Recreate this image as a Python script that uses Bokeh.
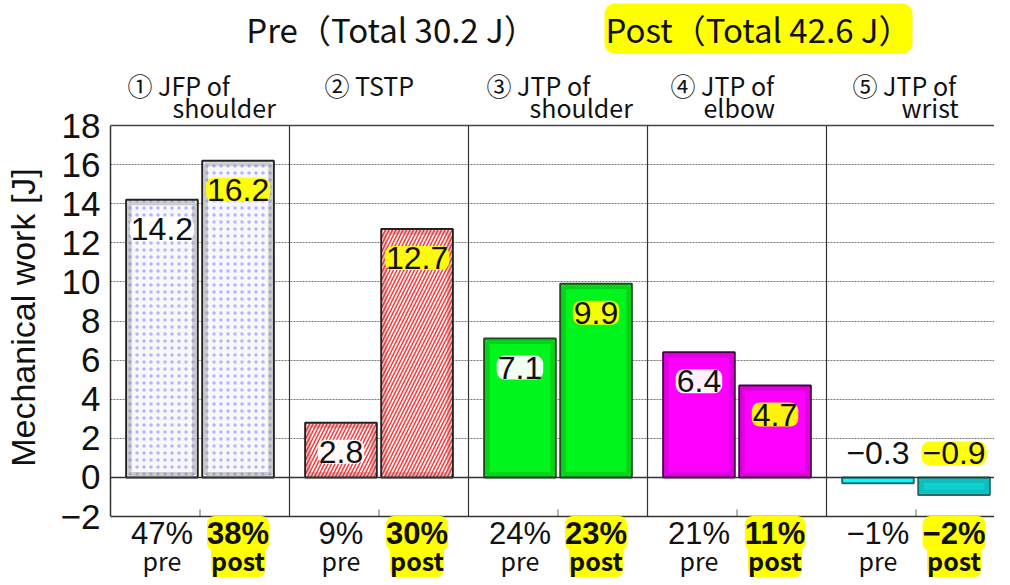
from bokeh.plotting import figure
from bokeh.layouts import column
from bokeh.models import Range1d, Label, Span, FixedTicker
from bokeh.embed import file_html
from bokeh.resources import INLINE

# ---------------- data ----------------
header_line1 = ["① JFP of", "② TSTP", "③ JTP of", "④ JTP of", "⑤ JTP of"]
header_line2 = ["shoulder", "", "shoulder", "elbow", "wrist"]
pre_values = [14.2, 2.8, 7.1, 6.4, -0.3]
post_values = [16.2, 12.7, 9.9, 4.7, -0.9]
pre_share = [47, 9, 24, 21, -1]
post_share = [38, 30, 23, 11, -2]
pre_total = 30.2
post_total = 42.6
y_ticks = [-2, 0, 2, 4, 6, 8, 10, 12, 14, 16, 18]
y_label = "Mechanical work [J]"

# ---------------- layout (page pixels) ----------------
W, H = 994, 577
TITLE_H = 57               # title strip height; main frame centre then sits at the axis centre
FL = 110                   # frame left
AX_TOP, AX_BOT = 125, 516  # page rows of y=18 and y=-2
CAT_PX = 179.0
ppu = (AX_BOT - AX_TOP) / 20.0
x_end = (W - FL) / CAT_PX
y_top = 18 + (AX_TOP - TITLE_H) / ppu
y_bot = -2 - (H - AX_BOT) / ppu

NUM_FONT = "'Liberation Sans', sans-serif"
JP_FONT = "'Noto Sans CJK JP', sans-serif"


def fy(page_y):
    return 18 - (page_y - AX_TOP) / ppu


def fx(page_x):
    return (page_x - FL) / CAT_PX


def fmt(v):
    s = f"{abs(v):.1f}"
    return ("\u2212" + s) if v < 0 else s


def pct(v):
    return ("\u2212" if v < 0 else "") + f"{abs(v)}%"


xr = Range1d(0, x_end)

# ---------------- title strip ----------------
t = figure(width=W, height=TITLE_H, x_range=xr, y_range=Range1d(TITLE_H, 0),
           output_backend="svg", toolbar_location=None,
           min_border_left=FL, min_border_top=0, min_border_bottom=0, min_border_right=0)
t.outline_line_color = None
t.axis.visible = False
t.grid.visible = False
t.add_layout(Label(x=fx(391), y=28, text=f"Pre（Total {pre_total} J）", text_align="center",
                   text_baseline="middle", text_font=JP_FONT, text_font_size="33px", text_color="#111111"))
t.add_layout(Label(x=fx(758), y=28, text=f"Post（Total {post_total} J）", text_align="center",
                   text_baseline="middle", text_font=JP_FONT, text_font_size="33px", text_color="#111111",
                   background_fill_color="#ffff00", border_radius=10, padding=1))

# ---------------- main chart ----------------
p = figure(width=W, height=H - TITLE_H, x_range=xr, y_range=Range1d(y_bot, y_top),
           output_backend="svg", toolbar_location=None,
           min_border_left=FL, min_border_top=0, min_border_bottom=0, min_border_right=0)
p.outline_line_color = None
p.background_fill_color = "white"
p.xaxis.visible = False

p.yaxis.bounds = (-2, 18)
p.yaxis.ticker = FixedTicker(ticks=y_ticks)
p.yaxis.major_label_overrides = {v: ("\u2212" + str(-v) if v < 0 else str(v)) for v in y_ticks}
p.yaxis.major_tick_out = 0
p.yaxis.major_tick_in = 0
p.yaxis.minor_tick_line_color = None
p.yaxis.axis_line_color = "#333333"
p.yaxis.axis_line_width = 1.5
p.yaxis.major_label_text_font = NUM_FONT
p.yaxis.major_label_text_font_size = "35px"
p.yaxis.major_label_text_color = "#111111"
p.yaxis.major_label_standoff = 10
p.yaxis.axis_label = y_label
p.yaxis.axis_label_text_font = NUM_FONT
p.yaxis.axis_label_text_font_style = "normal"
p.yaxis.axis_label_text_font_size = "34px"
p.yaxis.axis_label_text_color = "#111111"
p.yaxis.axis_label_standoff = 16

p.xgrid.visible = False
p.ygrid.ticker = FixedTicker(ticks=y_ticks[2:-1])
p.ygrid.grid_line_color = "#777777"
p.ygrid.grid_line_dash = "2 1"
p.ygrid.grid_line_width = 1

for loc, col in ((0, "#333333"), (18, "#444444"), (-2, "#333333")):
    p.add_layout(Span(location=loc, dimension="width", line_color=col, line_width=1.5))

n = len(pre_values)
p.segment(x0=list(range(1, n)), y0=-2, x1=list(range(1, n)), y1=18, line_color="#333333", line_width=1.2)
p.segment(x0=[i + 0.5 for i in range(n)], y0=-2, x1=[i + 0.5 for i in range(n)], y1=-2 + 7 / ppu,
          line_color="#666666", line_width=1)

# ---------------- bars ----------------
styles = [
    dict(fill_color="#f8f8fb", hatch_pattern=".", hatch_color="#b4b4ff", hatch_scale=7, hatch_weight=1,
         line_color="#222222"),
    dict(fill_color="#ffffff", hatch_pattern="/", hatch_color="#ff3535", hatch_scale=7, hatch_weight=1.5,
         line_color="#222222"),
    dict(fill_color="#00f51c", line_color="#1d4d1d"),
    dict(fill_color="#ff00ff", line_color="#4a004a"),
    dict(fill_color="#00ffff", line_color="#2a6a6a"),
]
bevel = ["#8a8a8a", "#b05050", "#0aa016", "#b000b0", "#00a8a8"]
post_fill_override = {4: "#12cfcf"}

DODGE = 0.2125
BAR_W = 0.40
inset_x = 3.5 / CAT_PX
inset_y = 3.5 / ppu
for i in range(n):
    for v, xc, post in ((pre_values[i], i + 0.5 - DODGE, False), (post_values[i], i + 0.5 + DODGE, True)):
        st = dict(styles[i])
        if post and i in post_fill_override:
            st["fill_color"] = post_fill_override[i]
        p.vbar(x=[xc], top=[v], bottom=0, width=BAR_W, line_width=2, **st)
        if abs(v) * ppu > 12:
            lo, hi = (inset_y, v - inset_y) if v > 0 else (v + inset_y, -inset_y)
            p.vbar(x=[xc], top=[hi], bottom=lo, width=BAR_W - 2 * inset_x, fill_color=None,
                   line_color=bevel[i], line_alpha=0.4, line_width=4)

# ---------------- value labels ----------------
for i in range(n):
    for v, xc, glow in ((pre_values[i], i + 0.5 - DODGE, "white"), (post_values[i], i + 0.5 + DODGE, "#ffff00")):
        ly = v - 29 / ppu if v > 0 else 24 / ppu
        p.add_layout(Label(x=xc, y=ly, text=fmt(v), text_align="center", text_baseline="middle",
                           text_font=NUM_FONT, text_font_size="32px", text_color="#111111",
                           background_fill_color=glow, background_fill_alpha=0.95,
                           border_radius=8, padding=1))

# ---------------- bottom labels (words first, then percentages on top) ----------------
for i in range(n):
    xp, xq = i + 0.5 - DODGE, i + 0.5 + DODGE
    p.add_layout(Label(x=xp, y=fy(559), text="pre", text_align="center", text_baseline="middle",
                       text_font=JP_FONT, text_font_size="25px", text_color="#111111"))
    p.add_layout(Label(x=xq, y=fy(559), text="post", text_align="center", text_baseline="middle",
                       text_font=JP_FONT, text_font_size="25px", text_font_style="bold", text_color="#111111",
                       background_fill_color="#ffff00", border_radius=8, padding=0))
for i in range(n):
    xp, xq = i + 0.5 - DODGE, i + 0.5 + DODGE
    p.add_layout(Label(x=xp, y=fy(533), text=pct(pre_share[i]), text_align="center", text_baseline="middle",
                       text_font=NUM_FONT, text_font_size="31px", text_color="#111111"))
    p.add_layout(Label(x=xq, y=fy(533), text=pct(post_share[i]), text_align="center", text_baseline="middle",
                       text_font=NUM_FONT, text_font_size="31px", text_font_style="bold", text_color="#111111",
                       background_fill_color="#ffff00", border_radius=8, padding=0))

# ---------------- headers ----------------
line1_off = [17, 35, 18, 23, 26]
line2_off = [62, 0, 61, 56, 75]
for i in range(n):
    p.add_layout(Label(x=i + line1_off[i] / CAT_PX, y=fy(84), text=header_line1[i], text_align="left",
                       text_baseline="middle", text_font=JP_FONT, text_font_size="25px", text_color="#111111"))
    if header_line2[i]:
        p.add_layout(Label(x=i + line2_off[i] / CAT_PX, y=fy(106), text=header_line2[i], text_align="left",
                           text_baseline="middle", text_font=JP_FONT, text_font_size="25px",
                           text_color="#111111"))

open("out.html", "w").write(file_html(column(t, p, spacing=0), INLINE))
